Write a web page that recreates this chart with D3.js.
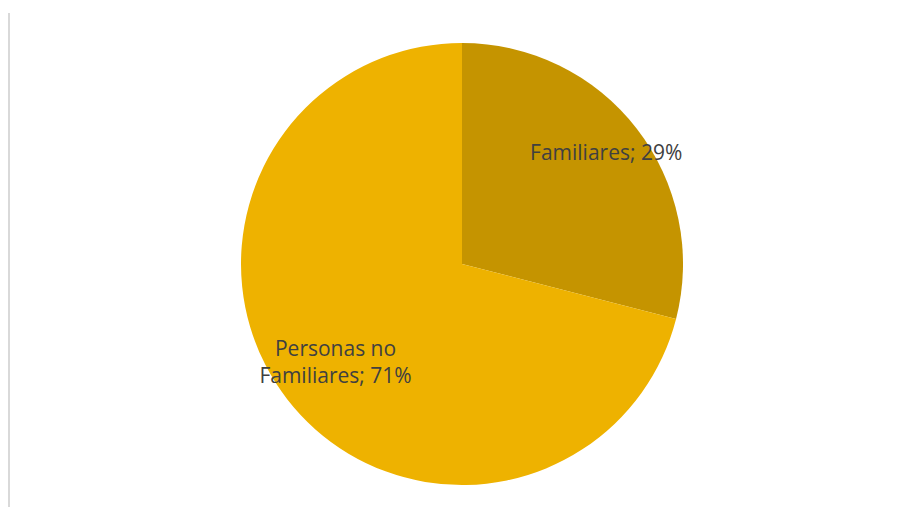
<!DOCTYPE html>
<html>
<head>
<meta charset="utf-8">
<script src="https://cdn.jsdelivr.net/npm/d3@7"></script>
<style>
  body { margin: 0; background: #fff; }
  svg { display: block; }
</style>
</head>
<body>
<svg width="901" height="507"></svg>
<script>
// Chart data
const categories = ['Familiares', 'Personas no Familiares'];
const values = [29, 71];
const colors = ['#C59400', '#EEB200'];
// label lines per slice (as wrapped in the original)
const labelLines = [['Familiares; 29%'], ['Personas no', 'Familiares; 71%']];

const svg = d3.select('svg');

// left border line of the chart area
svg.append('line')
    .attr('x1', 9).attr('x2', 9)
    .attr('y1', 13).attr('y2', 507)
    .style('stroke', '#d9d9d9')
    .style('stroke-width', 2);

const cx = 462, cy = 264, radius = 221;

const pie = d3.pie().sort(null).value(d => d);
const arcs = pie(values);
const arc = d3.arc().innerRadius(0).outerRadius(radius);

const g = svg.append('g').attr('transform', `translate(${cx},${cy})`);

g.selectAll('path')
    .data(arcs)
    .enter()
    .append('path')
    .attr('d', arc)
    .style('fill', (d, i) => colors[i]);

// how far out each label sits (fraction of radius), Excel "best fit"-ish
const labelRadius = [0.82, 0.73];

arcs.forEach((d, i) => {
    const r = radius * labelRadius[i];
    const [lx, ly] = d3.arc().innerRadius(r).outerRadius(r).centroid(d);
    const text = g.append('text')
        .attr('text-anchor', 'middle')
        .style('font-family', '"Open Sans", sans-serif')
        .style('font-size', '21px')
        .style('fill', '#404040');
    const lines = labelLines[i];
    lines.forEach((line, k) => {
        text.append('tspan')
            .attr('x', lx + 1)
            .attr('y', ly + (k - (lines.length - 1) / 2) * 27 + 7)
            .text(line);
    });
});
</script>
</body>
</html>
